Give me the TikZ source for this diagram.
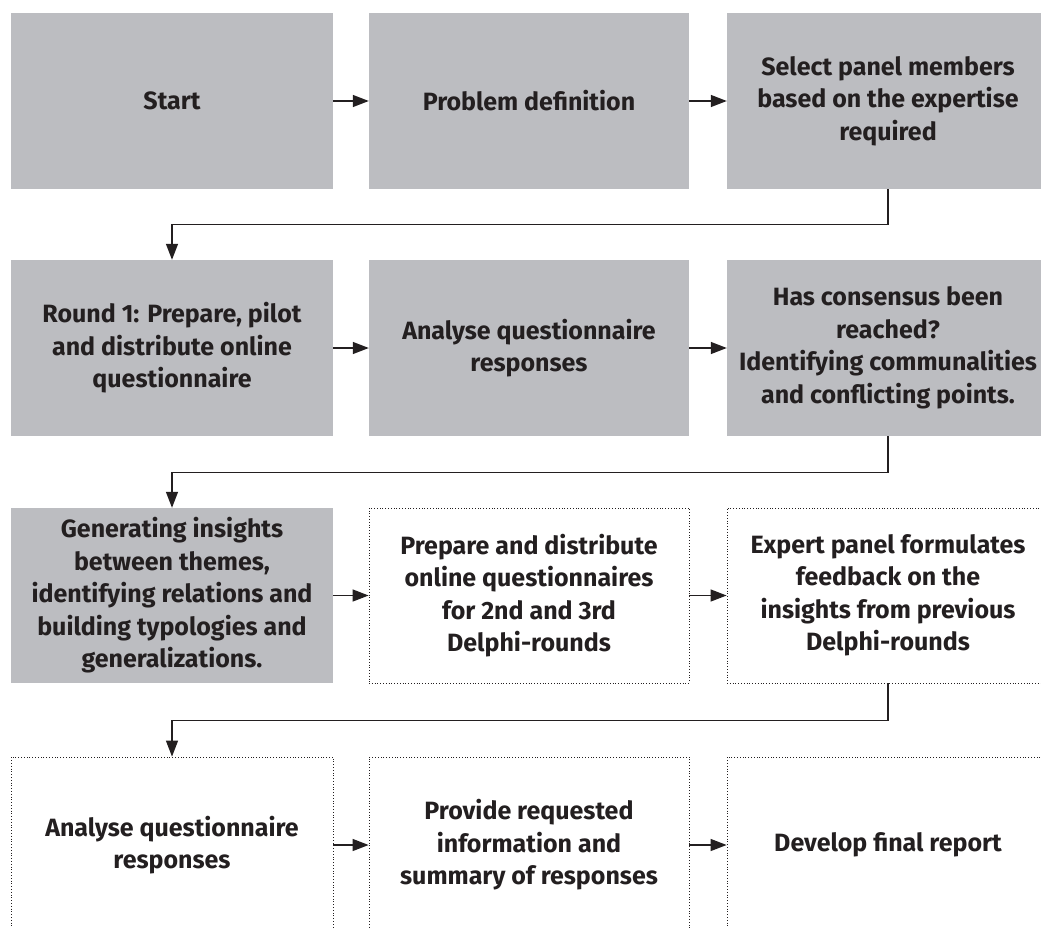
\documentclass[tikz,border=0pt]{standalone}
\usepackage{fontspec}
\setmainfont{Fira Sans}
\usetikzlibrary{arrows.meta}
\definecolor{boxgray}{RGB}{188,189,193}
\definecolor{ink}{RGB}{35,31,32}
\tikzset{
  base/.style={rectangle, minimum width=322pt, minimum height=176pt, inner sep=0pt,
    align=center, text=ink, font=\fontsize{25}{32.5}\selectfont\bfseries},
  graybox/.style={base, fill=boxgray},
  dotbox/.style={base, draw=ink, dotted, line width=0.8pt},
  arr/.style={draw=ink, line width=1.3pt, -{Triangle[length=16pt,width=12pt]}},
}
\begin{document}
\begin{tikzpicture}[x=1pt,y=-1pt]
\path[use as bounding box] (0,0) rectangle (1041,928);
\clip (0,0) rectangle (1041,928);
% row 1
\node[graybox] (a1) at (172,101) {Start};
\node[graybox, minimum width=320pt] (a2) at (529,101) {Problem definition};
\node[graybox] (a3) at (888,101) {Select panel members\\based on the expertise\\required};
% row 2
\node[graybox] (b1) at (172,348) {Round 1: Prepare, pilot\\and distribute online\\questionnaire};
\node[graybox, minimum width=320pt] (b2) at (529,348) {Analyse questionnaire\\responses};
\node[graybox] (b3) at (888,348) {Has consensus been\\reached?\\Identifying communalities\\and conflicting points.};
% row 3
\node[graybox, minimum height=175pt] (c1) at (172,595.5) {Generating insights\\between themes,\\identifying relations and\\building typologies and\\generalizations.};
\node[dotbox, minimum width=320pt, minimum height=175pt] (c2) at (529,595.5) {Prepare and distribute\\online questionnaires\\for 2nd and 3rd\\Delphi-rounds};
\node[dotbox, minimum height=175pt] (c3) at (888,595.5) {Expert panel formulates\\feedback on the\\insights from previous\\Delphi-rounds};
% row 4
\node[dotbox] (d1) at (172,845) {Analyse questionnaire\\responses};
\node[dotbox, minimum width=320pt] (d2) at (529,845) {Provide requested\\information and\\summary of responses};
\node[dotbox] (d3) at (888,845) {Develop final report};
% horizontal arrows
\draw[arr] (a1.east) -- (a2.west);
\draw[arr] (a2.east) -- (a3.west);
\draw[arr] (b1.east) -- (b2.west);
\draw[arr] (b2.east) -- (b3.west);
\draw[arr] (c1.east) -- (c2.west);
\draw[arr] (c2.east) -- (c3.west);
\draw[arr] (d1.east) -- (d2.west);
\draw[arr] (d2.east) -- (d3.west);
% row connectors
\draw[arr] (a3.south) -- ++(0,35) -| (b1.north);
\draw[arr] (b3.south) -- ++(0,36) -| (c1.north);
\draw[arr] (c3.south) -- ++(0,37) -| (d1.north);
\end{tikzpicture}
\end{document}
